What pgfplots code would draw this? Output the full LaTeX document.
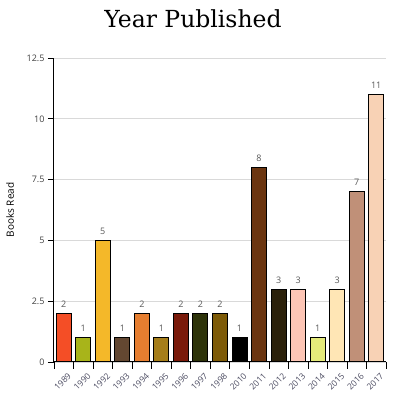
\documentclass[border=0pt]{standalone}
\usepackage{pgfplots}
\pgfplotsset{compat=1.18}
\usepackage{fontspec}
\setmainfont{Open Sans}
\newfontfamily\titlefont{DejaVu Serif}
\definecolor{c1}{HTML}{F44E26}
\definecolor{c2}{HTML}{A8B41A}
\definecolor{c3}{HTML}{F4B829}
\definecolor{c4}{HTML}{634731}
\definecolor{c5}{HTML}{E67E30}
\definecolor{c6}{HTML}{A67E1A}
\definecolor{c7}{HTML}{7A1A0A}
\definecolor{c8}{HTML}{2D3309}
\definecolor{c9}{HTML}{7D5A06}
\definecolor{c10}{HTML}{000000}
\definecolor{c11}{HTML}{6B3510}
\definecolor{c12}{HTML}{2B200A}
\definecolor{c13}{HTML}{FDC5B5}
\definecolor{c14}{HTML}{E4EA7A}
\definecolor{c15}{HTML}{FFE6B5}
\definecolor{c16}{HTML}{C09078}
\definecolor{c17}{HTML}{F8D2B5}
\definecolor{ticktext}{HTML}{4A4A60}
\begin{document}
\begin{tikzpicture}
\useasboundingbox (0,0) rectangle (400pt,397pt);
\node[font=\titlefont\fontsize{23.5}{27}\selectfont] at (193pt,378pt) {Year Published};
\begin{axis}[
  at={(54pt,35pt)}, anchor=south west,
  scale only axis, width=332pt, height=304pt,
  xmin=-0.5, xmax=16.5, ymin=0, ymax=12.5,
  ybar, bar width=15pt,
  axis x line*=bottom, axis y line*=left,
  axis line style={black, line width=1pt},
  ytick={0,2.5,5,7.5,10,12.5},
  yticklabels={0,2.5,5,7.5,10,12.5},
  ymajorgrids, grid style={gray!30, line width=0.6pt},
  xtick={0,...,16},
  xticklabels={1989,1990,1992,1993,1994,1995,1996,1997,1998,2010,2011,2012,2013,2014,2015,2016,2017},
  minor xtick={-0.5,0.5,...,16.5},
  major x tick style={draw=none},
  minor x tick style={black, line width=0.6pt},
  y tick style={black, line width=0.8pt},
  tick align=outside,
  minor tick length=7pt, major tick length=6pt,
  xticklabel style={rotate=45, anchor=north east, font=\fontsize{8.5}{9}\selectfont, text=ticktext, inner sep=0.5pt, yshift=-5pt},
  yticklabel style={font=\fontsize{9}{10}\selectfont, text=black!75},
  /pgf/number format/assume math mode=true,
  ylabel={Books Read},
  ylabel style={font=\fontsize{9.5}{11}\selectfont, text=black!70},
  every axis y label/.style={at={(-44pt,152pt)}, rotate=90, anchor=center},
  nodes near coords,
  every node near coord/.append style={font=\fontsize{9}{10}\selectfont, text=black!65, yshift=2pt},
  every axis plot/.append style={draw=black, line width=1pt, bar shift=0pt},
]
\addplot[fill=c1] coordinates {(0,2)};
\addplot[fill=c2] coordinates {(1,1)};
\addplot[fill=c3] coordinates {(2,5)};
\addplot[fill=c4] coordinates {(3,1)};
\addplot[fill=c5] coordinates {(4,2)};
\addplot[fill=c6] coordinates {(5,1)};
\addplot[fill=c7] coordinates {(6,2)};
\addplot[fill=c8] coordinates {(7,2)};
\addplot[fill=c9] coordinates {(8,2)};
\addplot[fill=c10] coordinates {(9,1)};
\addplot[fill=c11] coordinates {(10,8)};
\addplot[fill=c12] coordinates {(11,3)};
\addplot[fill=c13] coordinates {(12,3)};
\addplot[fill=c14] coordinates {(13,1)};
\addplot[fill=c15] coordinates {(14,3)};
\addplot[fill=c16] coordinates {(15,7)};
\addplot[fill=c17] coordinates {(16,11)};
\end{axis}
\end{tikzpicture}
\end{document}
